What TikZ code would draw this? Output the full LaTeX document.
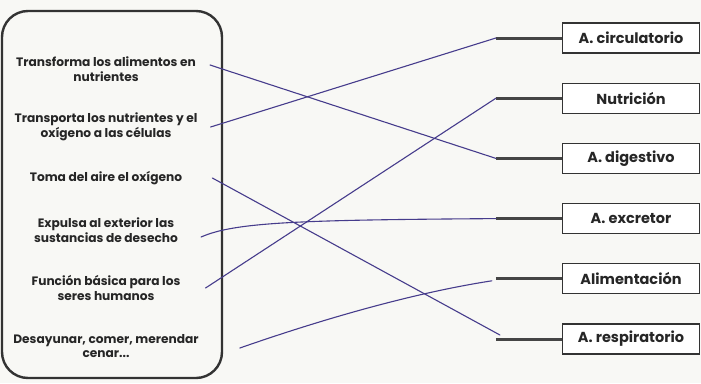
\documentclass[tikz,border=0pt]{standalone}
\usepackage{fontspec}
\setmainfont{Poppins}
\usepackage{xcolor}
\usepackage{tikz}
\usetikzlibrary{positioning, calc}
\definecolor{paper}{HTML}{F8F8F5}
\definecolor{inkdark}{HTML}{262626}
\definecolor{framegray}{HTML}{333333}
\definecolor{stubgray}{HTML}{454545}
\definecolor{penblue}{HTML}{463C8C}
\tikzset{
    itemtext/.style={
        align=center, font=\fontsize{12.2}{14.5}\selectfont\bfseries,
        text=inkdark, inner sep=1pt
    },
    termbox/.style={
        rectangle, draw=framegray, fill=white, line width=1.2pt,
        minimum width=137pt, minimum height=30pt,
        font=\fontsize{14.5}{16}\selectfont\bfseries, text=inkdark
    },
    stubline/.style={
        line width=3pt, color=stubgray
    },
    penline/.style={
        line width=1.1pt, color=penblue, line cap=round
    },
    leftframe/.style={
        draw=framegray, line width=2.4pt, rounded corners=26pt
    },
}
\begin{document}
\begin{tikzpicture}[x=1pt, y=-1pt, node distance=29pt]

    % Background and bounds
    \fill[paper] (0,0) rectangle (701,383);
    \useasboundingbox (0,0) rectangle (701,383);

    % Left frame with definitions
    \draw[leftframe] (2,11) rectangle (222,378);
    \node[itemtext] (transforma) at (106,69) {Transforma los alimentos en\\nutrientes};
    \node[itemtext] (transporta) at (106,127) {Transporta los nutrientes y el\\oxígeno a las células};
    \node[itemtext] (toma) at (106,178) {Toma del aire el oxígeno};
    \node[itemtext] (expulsa) at (106,230) {Expulsa al exterior las\\sustancias de desecho};
    \node[itemtext] (funcion) at (106,288) {Función básica para los\\seres humanos};
    \node[itemtext] (desayunar) at (106,346) {Desayunar, comer, merendar\\cenar...};

    % Right column: terms
    \node[termbox] (circulatorio) at (631,38) {A. circulatorio};
    \node[termbox, below=of circulatorio] (nutricion) {Nutrición};
    \node[termbox, below=of nutricion] (digestivo) {A. digestivo};
    \node[termbox, below=of digestivo] (excretor) {A. excretor};
    \node[termbox, below=of excretor] (alimentacion) {Alimentación};
    \node[termbox, below=of alimentacion] (respiratorio) {A. respiratorio};

    % Stubs in front of the terms
    \foreach \term in {circulatorio, nutricion, digestivo, excretor, alimentacion, respiratorio} {
        \coordinate[left=66pt of \term.west] (\term-end);
        \draw[stubline] (\term-end) -- (\term.west);
    }

    % Hand drawn matches
    \draw[penline] ($(transforma.east)+(13,-4)$) -- (digestivo-end);
    \draw[penline] ($(transporta.east)+(12,0)$) -- (circulatorio-end);
    \draw[penline] ($(toma.east)+(29,0)$) -- ($(respiratorio-end)+(4,-4)$);
    \draw[penline] ($(expulsa.east)+(22,7)$) .. controls (235,222) and (300,220) .. (excretor-end);
    \draw[penline] ($(funcion.east)+(24,0)$) -- (nutricion-end);
    \draw[penline] ($(desayunar.east)+(40,2)$) .. controls (300,327) and (400,295) .. ($(alimentacion-end)+(-4,2)$);

\end{tikzpicture}
\end{document}
